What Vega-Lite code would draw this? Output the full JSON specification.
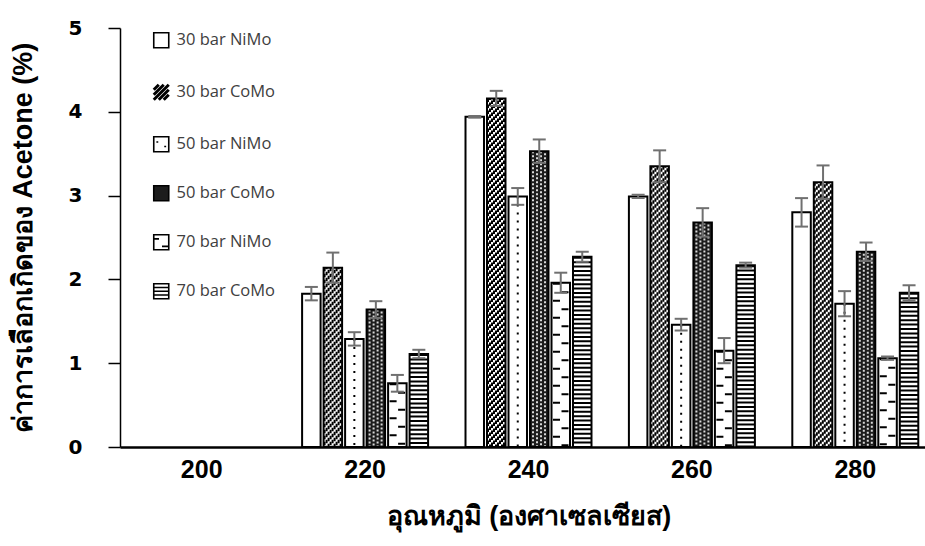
{
  "$schema": "https://vega.github.io/schema/vega-lite/v6.json",
  "width": 805,
  "height": 419,
  "autosize": {"type": "none"},
  "padding": {"left": 120, "top": 28, "right": 0, "bottom": 99},
  "background": "white",
  "config": {"view": {"stroke": null}, "axis": {"grid": false}},
  "data": {
    "values": [
      {"temp": "220", "cat": "30 bar NiMo", "v": 1.83, "e": 0.08},
      {"temp": "220", "cat": "30 bar CoMo", "v": 2.14, "e": 0.18},
      {"temp": "220", "cat": "50 bar NiMo", "v": 1.29, "e": 0.08},
      {"temp": "220", "cat": "50 bar CoMo", "v": 1.64, "e": 0.10},
      {"temp": "220", "cat": "70 bar NiMo", "v": 0.76, "e": 0.10},
      {"temp": "220", "cat": "70 bar CoMo", "v": 1.11, "e": 0.05},
      {"temp": "240", "cat": "30 bar NiMo", "v": 3.94, "e": 0.01},
      {"temp": "240", "cat": "30 bar CoMo", "v": 4.16, "e": 0.09},
      {"temp": "240", "cat": "50 bar NiMo", "v": 2.99, "e": 0.10},
      {"temp": "240", "cat": "50 bar CoMo", "v": 3.53, "e": 0.14},
      {"temp": "240", "cat": "70 bar NiMo", "v": 1.96, "e": 0.12},
      {"temp": "240", "cat": "70 bar CoMo", "v": 2.27, "e": 0.06},
      {"temp": "260", "cat": "30 bar NiMo", "v": 2.99, "e": 0.02},
      {"temp": "260", "cat": "30 bar CoMo", "v": 3.35, "e": 0.19},
      {"temp": "260", "cat": "50 bar NiMo", "v": 1.46, "e": 0.07},
      {"temp": "260", "cat": "50 bar CoMo", "v": 2.68, "e": 0.17},
      {"temp": "260", "cat": "70 bar NiMo", "v": 1.15, "e": 0.15},
      {"temp": "260", "cat": "70 bar CoMo", "v": 2.17, "e": 0.03},
      {"temp": "280", "cat": "30 bar NiMo", "v": 2.80, "e": 0.17},
      {"temp": "280", "cat": "30 bar CoMo", "v": 3.16, "e": 0.20},
      {"temp": "280", "cat": "50 bar NiMo", "v": 1.71, "e": 0.15},
      {"temp": "280", "cat": "50 bar CoMo", "v": 2.33, "e": 0.11},
      {"temp": "280", "cat": "70 bar NiMo", "v": 1.06, "e": 0.02},
      {"temp": "280", "cat": "70 bar CoMo", "v": 1.84, "e": 0.09}
    ]
  },
  "transform": [
    {"calculate": "datum.v - datum.e", "as": "lo"},
    {"calculate": "datum.v + datum.e", "as": "hi"}
  ],
  "resolve": {"scale": {"xOffset": "independent"}},
  "encoding": {
    "x": {
      "field": "temp",
      "type": "ordinal",
      "title": "อุณหภูมิ (องศาเซลเซียส)",
      "scale": {"domain": ["200", "220", "240", "260", "280"], "range": [0, 817], "paddingInner": 0, "paddingOuter": 0},
      "axis": {
        "labelAngle": 0,
        "ticks": false,
        "domainColor": "black",
        "domainWidth": 2.5,
        "labelFont": "Liberation Sans",
        "labelFontWeight": "bold",
        "labelFontSize": 25,
        "labelColor": "black",
        "labelPadding": 10,
        "titleFont": "Liberation Sans",
        "titleFontWeight": "bold",
        "titleFontSize": 27,
        "titleColor": "black",
        "titlePadding": 21
      }
    },
    "xOffset": {
      "field": "cat",
      "type": "nominal",
      "scale": {
        "domain": ["30 bar NiMo", "30 bar CoMo", "50 bar NiMo", "50 bar CoMo", "70 bar NiMo", "70 bar CoMo"],
        "paddingInner": 0.14,
        "paddingOuter": 0.87
      }
    },
    "y": {
      "field": "v",
      "type": "quantitative",
      "title": "ค่าการเลือกเกิดของ Acetone (%)",
      "scale": {"domain": [0, 5]},
      "axis": {
        "values": [0, 1, 2, 3, 4, 5],
        "tickSize": 12,
        "tickColor": "black",
        "tickWidth": 1.5,
        "domainColor": "black",
        "domainWidth": 1.5,
        "labelFont": "DejaVu Sans",
        "labelFontWeight": "bold",
        "labelFontSize": 20,
        "labelColor": "black",
        "labelPadding": 26,
        "titleFont": "Liberation Sans",
        "titleFontWeight": "bold",
        "titleFontSize": 27,
        "titleColor": "black",
        "titlePadding": 31
      }
    }
  },
  "layer": [
    {
      "mark": {"type": "bar", "strokeWidth": 0},
      "encoding": {
        "fill": {
          "field": "cat",
          "type": "nominal",
          "scale": {
            "domain": ["30 bar NiMo", "30 bar CoMo", "50 bar NiMo", "50 bar CoMo", "70 bar NiMo", "70 bar CoMo"],
            "range": ["white", "white", "white", "#1c1c1c", "white", "white"]
          },
          "legend": {
            "title": null,
            "orient": "none",
            "legendX": 33,
            "legendY": 4,
            "padding": 0,
            "symbolType": "square",
            "symbolSize": 225,
            "symbolStrokeColor": "black",
            "symbolStrokeWidth": 1.6,
            "rowPadding": 27,
            "labelFont": "Open Sans",
            "labelFontSize": 16.5,
            "labelColor": "#404040",
            "labelOffset": 7,
            "encode": {
              "symbols": {
                "update": {
                  "shape": {"signal": "datum.value === '30 bar CoMo' ? 'M-1,-0.33L-0.33,-1 M-1,0.33L0.33,-1 M-1,1L1,-1 M-0.33,1L1,-0.33 M0.33,1L1,0.33' : datum.value === '50 bar NiMo' ? 'M-1,-1H1V1H-1Z M-0.65,-0.3L-0.4,-0.3 M0.4,0.3L0.65,0.3' : datum.value === '70 bar NiMo' ? 'M-1,-1H1V1H-1Z M0.1,0.55H1 M-1,-0.45H-0.3' : datum.value === '70 bar CoMo' ? 'M-1,-1H1V1H-1Z M-1,-0.5H1 M-1,0H1 M-1,0.5H1' : 'M-1,-1H1V1H-1Z'"},
                  "fill": {"signal": "datum.value === '50 bar CoMo' ? '#3a3a3a' : 'white'"},
                  "strokeWidth": {"signal": "datum.value === '30 bar CoMo' ? 3 : 1.6"},
                  "stroke": {"value": "black"},
                  "opacity": {"value": 1}
                }
              }
            }
          }
        }
      }
    },
    {
      "transform": [{"filter": "datum.cat === '30 bar CoMo'"}],
      "mark": {"type": "rule", "color": "black", "strokeWidth": 2, "strokeDash": [3.6, 2.4], "strokeDashOffset": 0},
      "encoding": {"xOffset": {"field": "cat", "type": "nominal", "scale": {"domain": ["30 bar NiMo", "30 bar CoMo", "50 bar NiMo", "50 bar CoMo", "70 bar NiMo", "70 bar CoMo"], "paddingInner": 0.14, "paddingOuter": 0.87, "range": [-8.245, 155.155]}}, "y2": {"datum": 0}}
    },
    {
      "transform": [{"filter": "datum.cat === '30 bar CoMo'"}],
      "mark": {"type": "rule", "color": "black", "strokeWidth": 2, "strokeDash": [3.6, 2.4], "strokeDashOffset": 2},
      "encoding": {"xOffset": {"field": "cat", "type": "nominal", "scale": {"domain": ["30 bar NiMo", "30 bar CoMo", "50 bar NiMo", "50 bar CoMo", "70 bar NiMo", "70 bar CoMo"], "paddingInner": 0.14, "paddingOuter": 0.87, "range": [-6.245, 157.155]}}, "y2": {"datum": 0}}
    },
    {
      "transform": [{"filter": "datum.cat === '30 bar CoMo'"}],
      "mark": {"type": "rule", "color": "black", "strokeWidth": 2, "strokeDash": [3.6, 2.4], "strokeDashOffset": 4},
      "encoding": {"xOffset": {"field": "cat", "type": "nominal", "scale": {"domain": ["30 bar NiMo", "30 bar CoMo", "50 bar NiMo", "50 bar CoMo", "70 bar NiMo", "70 bar CoMo"], "paddingInner": 0.14, "paddingOuter": 0.87, "range": [-4.245, 159.155]}}, "y2": {"datum": 0}}
    },
    {
      "transform": [{"filter": "datum.cat === '30 bar CoMo'"}],
      "mark": {"type": "rule", "color": "black", "strokeWidth": 2, "strokeDash": [3.6, 2.4], "strokeDashOffset": 0},
      "encoding": {"xOffset": {"field": "cat", "type": "nominal", "scale": {"domain": ["30 bar NiMo", "30 bar CoMo", "50 bar NiMo", "50 bar CoMo", "70 bar NiMo", "70 bar CoMo"], "paddingInner": 0.14, "paddingOuter": 0.87, "range": [-2.245, 161.155]}}, "y2": {"datum": 0}}
    },
    {
      "transform": [{"filter": "datum.cat === '30 bar CoMo'"}],
      "mark": {"type": "rule", "color": "black", "strokeWidth": 2, "strokeDash": [3.6, 2.4], "strokeDashOffset": 2},
      "encoding": {"xOffset": {"field": "cat", "type": "nominal", "scale": {"domain": ["30 bar NiMo", "30 bar CoMo", "50 bar NiMo", "50 bar CoMo", "70 bar NiMo", "70 bar CoMo"], "paddingInner": 0.14, "paddingOuter": 0.87, "range": [-0.245, 163.155]}}, "y2": {"datum": 0}}
    },
    {
      "transform": [{"filter": "datum.cat === '30 bar CoMo'"}],
      "mark": {"type": "rule", "color": "black", "strokeWidth": 2, "strokeDash": [3.6, 2.4], "strokeDashOffset": 4},
      "encoding": {"xOffset": {"field": "cat", "type": "nominal", "scale": {"domain": ["30 bar NiMo", "30 bar CoMo", "50 bar NiMo", "50 bar CoMo", "70 bar NiMo", "70 bar CoMo"], "paddingInner": 0.14, "paddingOuter": 0.87, "range": [1.755, 165.155]}}, "y2": {"datum": 0}}
    },
    {
      "transform": [{"filter": "datum.cat === '30 bar CoMo'"}],
      "mark": {"type": "rule", "color": "black", "strokeWidth": 2, "strokeDash": [3.6, 2.4], "strokeDashOffset": 0},
      "encoding": {"xOffset": {"field": "cat", "type": "nominal", "scale": {"domain": ["30 bar NiMo", "30 bar CoMo", "50 bar NiMo", "50 bar CoMo", "70 bar NiMo", "70 bar CoMo"], "paddingInner": 0.14, "paddingOuter": 0.87, "range": [3.755, 167.155]}}, "y2": {"datum": 0}}
    },
    {
      "transform": [{"filter": "datum.cat === '30 bar CoMo'"}],
      "mark": {"type": "rule", "color": "black", "strokeWidth": 2, "strokeDash": [3.6, 2.4], "strokeDashOffset": 2},
      "encoding": {"xOffset": {"field": "cat", "type": "nominal", "scale": {"domain": ["30 bar NiMo", "30 bar CoMo", "50 bar NiMo", "50 bar CoMo", "70 bar NiMo", "70 bar CoMo"], "paddingInner": 0.14, "paddingOuter": 0.87, "range": [5.755, 169.155]}}, "y2": {"datum": 0}}
    },
    {
      "transform": [{"filter": "datum.cat === '30 bar CoMo'"}],
      "mark": {"type": "rule", "color": "black", "strokeWidth": 2, "strokeDash": [3.6, 2.4], "strokeDashOffset": 4},
      "encoding": {"xOffset": {"field": "cat", "type": "nominal", "scale": {"domain": ["30 bar NiMo", "30 bar CoMo", "50 bar NiMo", "50 bar CoMo", "70 bar NiMo", "70 bar CoMo"], "paddingInner": 0.14, "paddingOuter": 0.87, "range": [7.755, 171.155]}}, "y2": {"datum": 0}}
    },
    {
      "transform": [{"filter": "datum.cat === '50 bar CoMo'"}],
      "mark": {"type": "rule", "color": "#d9d9d9", "strokeWidth": 2, "strokeDash": [2, 2], "strokeDashOffset": 0},
      "encoding": {"xOffset": {"field": "cat", "type": "nominal", "scale": {"domain": ["30 bar NiMo", "30 bar CoMo", "50 bar NiMo", "50 bar CoMo", "70 bar NiMo", "70 bar CoMo"], "paddingInner": 0.14, "paddingOuter": 0.87, "range": [-6.245, 157.155]}}, "y2": {"datum": 0}}
    },
    {
      "transform": [{"filter": "datum.cat === '50 bar CoMo'"}],
      "mark": {"type": "rule", "color": "#d9d9d9", "strokeWidth": 2, "strokeDash": [2, 2], "strokeDashOffset": 2},
      "encoding": {"xOffset": {"field": "cat", "type": "nominal", "scale": {"domain": ["30 bar NiMo", "30 bar CoMo", "50 bar NiMo", "50 bar CoMo", "70 bar NiMo", "70 bar CoMo"], "paddingInner": 0.14, "paddingOuter": 0.87, "range": [-2.245, 161.155]}}, "y2": {"datum": 0}}
    },
    {
      "transform": [{"filter": "datum.cat === '50 bar CoMo'"}],
      "mark": {"type": "rule", "color": "#d9d9d9", "strokeWidth": 2, "strokeDash": [2, 2], "strokeDashOffset": 0},
      "encoding": {"xOffset": {"field": "cat", "type": "nominal", "scale": {"domain": ["30 bar NiMo", "30 bar CoMo", "50 bar NiMo", "50 bar CoMo", "70 bar NiMo", "70 bar CoMo"], "paddingInner": 0.14, "paddingOuter": 0.87, "range": [1.755, 165.155]}}, "y2": {"datum": 0}}
    },
    {
      "transform": [{"filter": "datum.cat === '50 bar CoMo'"}],
      "mark": {"type": "rule", "color": "#d9d9d9", "strokeWidth": 2, "strokeDash": [2, 2], "strokeDashOffset": 2},
      "encoding": {"xOffset": {"field": "cat", "type": "nominal", "scale": {"domain": ["30 bar NiMo", "30 bar CoMo", "50 bar NiMo", "50 bar CoMo", "70 bar NiMo", "70 bar CoMo"], "paddingInner": 0.14, "paddingOuter": 0.87, "range": [5.755, 169.155]}}, "y2": {"datum": 0}}
    },
    {
      "transform": [{"filter": "datum.cat === '50 bar NiMo'"}],
      "mark": {"type": "rule", "color": "black", "strokeWidth": 2, "strokeDash": [2, 6], "strokeDashOffset": 0},
      "encoding": {"y2": {"datum": 0}}
    },
    {
      "transform": [{"filter": "datum.cat === '70 bar NiMo'"}],
      "mark": {"type": "rule", "color": "black", "strokeWidth": 7, "strokeDash": [2, 15], "strokeDashOffset": 0},
      "encoding": {"xOffset": {"field": "cat", "type": "nominal", "scale": {"domain": ["30 bar NiMo", "30 bar CoMo", "50 bar NiMo", "50 bar CoMo", "70 bar NiMo", "70 bar CoMo"], "paddingInner": 0.14, "paddingOuter": 0.87, "range": [-4.245, 159.155]}}, "y2": {"datum": 0}}
    },
    {
      "transform": [{"filter": "datum.cat === '70 bar NiMo'"}],
      "mark": {"type": "rule", "color": "black", "strokeWidth": 7, "strokeDash": [2, 15], "strokeDashOffset": 8.5},
      "encoding": {"xOffset": {"field": "cat", "type": "nominal", "scale": {"domain": ["30 bar NiMo", "30 bar CoMo", "50 bar NiMo", "50 bar CoMo", "70 bar NiMo", "70 bar CoMo"], "paddingInner": 0.14, "paddingOuter": 0.87, "range": [4.255, 167.655]}}, "y2": {"datum": 0}}
    },
    {
      "transform": [{"filter": "datum.cat === '70 bar CoMo'"}],
      "mark": {"type": "rule", "color": "black", "strokeWidth": 18, "strokeDash": [2, 2.4], "strokeDashOffset": 0},
      "encoding": {"y2": {"datum": 0}}
    },
    {
      "mark": {"type": "bar", "fill": "white", "fillOpacity": 0, "stroke": "black", "strokeWidth": 2}
    },
    {
      "mark": {"type": "rule", "color": "#707070", "strokeWidth": 2},
      "encoding": {
        "y": {"field": "lo", "type": "quantitative", "title": "ค่าการเลือกเกิดของ Acetone (%)"},
        "y2": {"field": "hi"}
      }
    },
    {
      "mark": {"type": "tick", "orient": "horizontal", "size": 13, "thickness": 2, "color": "#707070", "opacity": 1},
      "encoding": {"y": {"field": "hi", "type": "quantitative", "title": "ค่าการเลือกเกิดของ Acetone (%)"}}
    },
    {
      "mark": {"type": "tick", "orient": "horizontal", "size": 13, "thickness": 2, "color": "#707070", "opacity": 1},
      "encoding": {"y": {"field": "lo", "type": "quantitative", "title": "ค่าการเลือกเกิดของ Acetone (%)"}}
    }
  ]
}
